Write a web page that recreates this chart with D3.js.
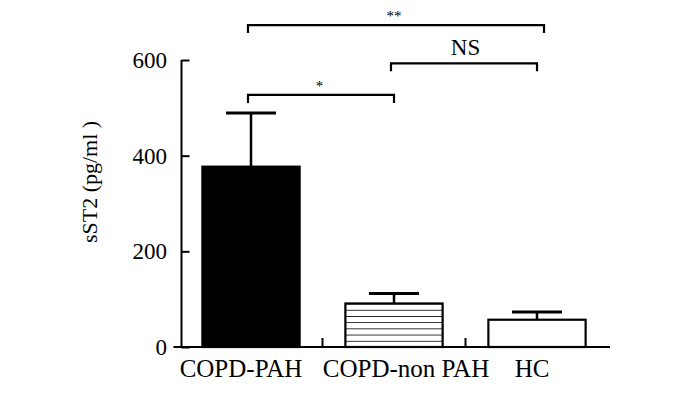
<!DOCTYPE html>
<html>
<head>
<meta charset="utf-8">
<script src="https://cdn.jsdelivr.net/npm/d3@7"></script>
<style>
  body { margin: 0; background: #fff; }
  svg { display: block; }
  text { font-family: "Liberation Serif", "Times New Roman", serif; fill: #000; }
</style>
</head>
<body>
<svg id="drawing_region"></svg>
<script>
// groups and their mean / mean+SD values (pg/ml)
const categories = ["COPD-PAH", "COPD-non PAH", "HC"];
const means = [377, 91, 57];
const errTops = [489, 112, 73];
const fills = ["solid", "hatch", "empty"];
const yTicks = [0, 200, 400, 600];

// significance brackets: from group, to group, bracket level (in axis units), label
const bracketFrom = [0, 1, 0];
const bracketTo = [1, 2, 2];
const bracketLevel = [527, 593, 673];
const bracketLabel = ["*", "NS", "**"];

const config = {
    width: 700,
    height: 394,
    xRange: [179.5, 608.5],
    yRange: [347, 60],
    labelShift: [-10, 12, -5]
};

const svg = d3.select('#drawing_region')
    .attr('width', config.width)
    .attr('height', config.height);

const xscale = d3.scaleBand()
    .domain(categories)
    .range(config.xRange)
    .paddingInner(0.32)
    .paddingOuter(0.16);

// plain bands for the separator ticks on the x axis
const xband = d3.scaleBand()
    .domain(categories)
    .range(config.xRange);

const yscale = d3.scaleLinear()
    .domain([0, 600])
    .range(config.yRange);

// hatch pattern for the middle bar
const defs = svg.append('defs');
const pat = defs.append('pattern')
    .attr('id', 'hlines')
    .attr('patternUnits', 'userSpaceOnUse')
    .attr('width', 20)
    .attr('height', 6.2)
    .attr('y', yscale(0));
pat.append('rect').attr('width', 20).attr('height', 6.2).attr('fill', '#fff');
pat.append('line')
    .attr('x1', 0).attr('x2', 20)
    .attr('y1', 0).attr('y2', 0)
    .attr('stroke', '#000')
    .attr('stroke-width', 1.6);

const data = categories.map((c, i) => ({ cat: c, mean: means[i], top: errTops[i], fill: fills[i] }));

// error bars (drawn under the bars)
const err = svg.append('g').selectAll('g').data(data).join('g');
err.append('line')
    .attr('x1', d => xscale(d.cat) + xscale.bandwidth() / 2)
    .attr('x2', d => xscale(d.cat) + xscale.bandwidth() / 2)
    .attr('y1', d => yscale(d.mean))
    .attr('y2', d => yscale(d.top))
    .attr('stroke', '#000')
    .attr('stroke-width', 2.5);
err.append('line')
    .attr('x1', d => xscale(d.cat) + xscale.bandwidth() / 2 - 25)
    .attr('x2', d => xscale(d.cat) + xscale.bandwidth() / 2 + 25)
    .attr('y1', d => yscale(d.top))
    .attr('y2', d => yscale(d.top))
    .attr('stroke', '#000')
    .attr('stroke-width', 3);

// bars
svg.append('g').selectAll('rect').data(data).join('rect')
    .attr('x', d => xscale(d.cat))
    .attr('y', d => yscale(d.mean))
    .attr('width', xscale.bandwidth())
    .attr('height', d => yscale(0) - yscale(d.mean))
    .attr('fill', d => d.fill === 'solid' ? '#000' : d.fill === 'hatch' ? 'url(#hlines)' : '#fff')
    .attr('stroke', '#000')
    .attr('stroke-width', 2.2);

// y axis with inward ticks
const yaxis = d3.axisRight(yscale)
    .tickValues(yTicks)
    .tickSize(8)
    .tickFormat('');
const yg = svg.append('g')
    .attr('transform', `translate(${config.xRange[0] + 2}, 0)`)
    .call(yaxis);
yg.select('.domain').remove();
yg.append('line')
    .attr('x1', 0).attr('x2', 0)
    .attr('y1', yscale(600)).attr('y2', yscale(0))
    .attr('stroke', '#000').attr('stroke-width', 2);
yg.selectAll('.tick line').attr('stroke', '#000').attr('stroke-width', 2);

svg.append('g').selectAll('text').data(yTicks).join('text')
    .attr('x', 167)
    .attr('y', d => yscale(d))
    .attr('dy', '0.35em')
    .attr('text-anchor', 'end')
    .attr('font-size', '23px')
    .text(d => d);

// x axis baseline with separator ticks
svg.append('line')
    .attr('x1', config.xRange[0] - 6)
    .attr('x2', config.xRange[1] + 1.5)
    .attr('y1', yscale(0)).attr('y2', yscale(0))
    .attr('stroke', '#000').attr('stroke-width', 2.2);
svg.append('g').selectAll('line').data(categories.slice(1)).join('line')
    .attr('x1', d => xband(d)).attr('x2', d => xband(d))
    .attr('y1', yscale(0)).attr('y2', yscale(0) - 9)
    .attr('stroke', '#000').attr('stroke-width', 2);

svg.append('g').selectAll('text').data(categories).join('text')
    .attr('x', (d, i) => xscale(d) + xscale.bandwidth() / 2 + config.labelShift[i])
    .attr('y', 377)
    .attr('text-anchor', 'middle')
    .attr('font-size', '25px')
    .text(d => d);

// y axis title
svg.append('text')
    .attr('transform', `translate(97, ${182}) rotate(-90)`)
    .attr('text-anchor', 'middle')
    .attr('font-size', '22px')
    .text('sST2 (pg/ml )');

// significance brackets
const br = svg.append('g').selectAll('g').data(bracketLabel).join('g');
br.append('path')
    .attr('d', (d, i) => {
        const x1 = xscale(categories[bracketFrom[i]]) + xscale.bandwidth() / 2 - 3;
        const x2 = xscale(categories[bracketTo[i]]) + xscale.bandwidth() / 2 + (i === 2 ? 7 : 0);
        const y = yscale(bracketLevel[i]);
        return `M${x1},${y + 8}V${y}H${x2}V${y + 8}`;
    })
    .attr('fill', 'none')
    .attr('stroke', '#000')
    .attr('stroke-width', 2.2);
br.append('text')
    .attr('x', (d, i) => (xscale(categories[bracketFrom[i]]) + xscale(categories[bracketTo[i]])) / 2 + xscale.bandwidth() / 2 - (d === '*' ? 3 : 0))
    .attr('y', (d, i) => yscale(bracketLevel[i]) - (d === 'NS' ? 8 : 4))
    .attr('text-anchor', 'middle')
    .attr('font-size', d => d === 'NS' ? '23px' : '15px')
    .text(d => d);
</script>
</body>
</html>
